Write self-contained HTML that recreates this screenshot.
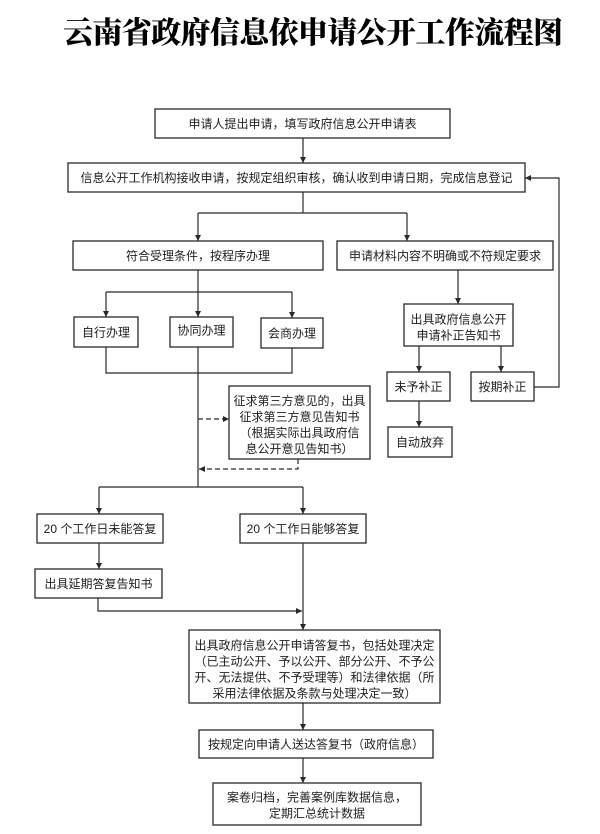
<!DOCTYPE html>
<html><head><meta charset="utf-8">
<style>
html,body{margin:0;padding:0;background:#fff;}
svg{display:block;}
.t{font-family:"Liberation Sans","Noto Sans CJK SC",sans-serif;font-size:12px;fill:#1e1e1e;text-anchor:middle;}
.ttl{font-family:"Liberation Serif","Noto Serif CJK SC",serif;font-size:30px;font-weight:900;fill:#000;}
rect{fill:#fff;stroke:#2a2a2a;stroke-width:1.3;}
.l{fill:none;stroke:#2a2a2a;stroke-width:1.2;}
.d{fill:none;stroke:#2a2a2a;stroke-width:1.2;stroke-dasharray:5,3;}
</style></head>
<body>
<svg width="600" height="834" viewBox="0 0 600 834" xmlns="http://www.w3.org/2000/svg">
<defs>
<marker id="a" markerUnits="userSpaceOnUse" markerWidth="6" markerHeight="6" refX="6" refY="3" orient="auto">
<path d="M0,0 L6,3 L0,6 z" fill="#2a2a2a"/>
</marker>
</defs>

<text class="ttl" x="63" y="43" textLength="500" lengthAdjust="spacing">云南省政府信息依申请公开工作流程图</text>

<!-- box1 -->
<rect x="155" y="109" width="295" height="29"/>
<text class="t" x="302.5" y="128">申请人提出申请，填写政府信息公开申请表</text>
<line class="l" x1="303" y1="138" x2="303" y2="163" marker-end="url(#a)"/>

<!-- box2 -->
<rect x="68" y="163" width="457" height="29"/>
<text class="t" x="296.5" y="182">信息公开工作机构接收申请，按规定组织审核，确认收到申请日期，完成信息登记</text>

<line class="l" x1="303" y1="192" x2="303" y2="213"/>
<line class="l" x1="198" y1="213" x2="407" y2="213"/>
<line class="l" x1="198" y1="213" x2="198" y2="241" marker-end="url(#a)"/>
<line class="l" x1="407" y1="213" x2="407" y2="241" marker-end="url(#a)"/>

<!-- box3 / box4 -->
<rect x="73" y="241" width="250" height="29"/>
<text class="t" x="198" y="260">符合受理条件，按程序办理</text>
<rect x="337" y="241" width="216" height="29"/>
<text class="t" x="445" y="260">申请材料内容不明确或不符规定要求</text>

<!-- left branch -->
<line class="l" x1="198" y1="270" x2="198" y2="317" marker-end="url(#a)"/>
<line class="l" x1="106" y1="292" x2="292" y2="292"/>
<line class="l" x1="106" y1="292" x2="106" y2="317" marker-end="url(#a)"/>
<line class="l" x1="292" y1="292" x2="292" y2="318" marker-end="url(#a)"/>

<rect x="74" y="317" width="64" height="30"/>
<text class="t" x="106" y="336.5">自行办理</text>
<rect x="170" y="317" width="63" height="30"/>
<text class="t" x="201.5" y="334.5">协同办理</text>
<rect x="261" y="318" width="62" height="30"/>
<text class="t" x="292" y="337.5">会商办理</text>

<path class="l" d="M106,347 V373 H292 V348"/>
<line class="l" x1="198" y1="347" x2="198" y2="487"/>

<!-- third party -->
<line class="d" x1="198" y1="419" x2="229" y2="419" marker-end="url(#a)"/>
<rect x="229" y="386" width="141" height="73"/>
<text class="t" x="299.5" y="405">征求第三方意见的，出具</text>
<text class="t" x="299.5" y="421">征求第三方意见告知书</text>
<text class="t" x="299.5" y="437">（根据实际出具政府信</text>
<text class="t" x="299.5" y="453">息公开意见告知书）</text>
<path class="d" d="M298,459 V469 H199" marker-end="url(#a)"/>

<!-- 20 days -->
<line class="l" x1="99" y1="487" x2="303" y2="487"/>
<line class="l" x1="99" y1="487" x2="99" y2="514" marker-end="url(#a)"/>
<line class="l" x1="303" y1="487" x2="303" y2="514" marker-end="url(#a)"/>
<rect x="37" y="514" width="126" height="29"/>
<text class="t" x="100" y="533">20 个工作日未能答复</text>
<rect x="240" y="514" width="126" height="29"/>
<text class="t" x="303" y="533">20 个工作日能够答复</text>

<line class="l" x1="99" y1="543" x2="99" y2="569" marker-end="url(#a)"/>
<rect x="35" y="569" width="127" height="29"/>
<text class="t" x="98.5" y="588">出具延期答复告知书</text>
<path class="l" d="M98,598 V611 H302" marker-end="url(#a)"/>
<line class="l" x1="303" y1="543" x2="303" y2="630" marker-end="url(#a)"/>

<!-- big box -->
<rect x="189" y="630" width="251" height="73"/>
<text class="t" x="314.5" y="649.5">出具政府信息公开申请答复书，包括处理决定</text>
<text class="t" x="314.5" y="665.5">（已主动公开、予以公开、部分公开、不予公</text>
<text class="t" x="314.5" y="681.5">开、无法提供、不予受理等）和法律依据（所</text>
<text class="t" x="314.5" y="697.5">采用法律依据及条款与处理决定一致）</text>

<line class="l" x1="303" y1="703" x2="303" y2="730" marker-end="url(#a)"/>
<rect x="199" y="730" width="234" height="28"/>
<text class="t" x="316" y="748.5">按规定向申请人送达答复书（政府信息）</text>

<line class="l" x1="303" y1="758" x2="303" y2="783" marker-end="url(#a)"/>
<rect x="213" y="783" width="208" height="42"/>
<text class="t" x="317" y="801.5">案卷归档，完善案例库数据信息，</text>
<text class="t" x="317" y="817.5">定期汇总统计数据</text>

<!-- right column -->
<line class="l" x1="458" y1="270" x2="458" y2="304" marker-end="url(#a)"/>
<rect x="404" y="304" width="109" height="42"/>
<text class="t" x="458.5" y="323.5">出具政府信息公开</text>
<text class="t" x="458.5" y="339.5">申请补正告知书</text>

<line class="l" x1="419" y1="346" x2="419" y2="372" marker-end="url(#a)"/>
<line class="l" x1="501" y1="346" x2="501" y2="372" marker-end="url(#a)"/>
<rect x="387" y="372" width="63" height="29"/>
<text class="t" x="418.5" y="391">未予补正</text>
<rect x="471" y="372" width="63" height="29"/>
<text class="t" x="502.5" y="391">按期补正</text>

<path class="l" d="M534,387 H559 V178 H525" marker-end="url(#a)"/>

<line class="l" x1="419" y1="401" x2="419" y2="427" marker-end="url(#a)"/>
<rect x="388" y="427" width="64" height="30"/>
<text class="t" x="420" y="446.5">自动放弃</text>
</svg>
</body></html>
